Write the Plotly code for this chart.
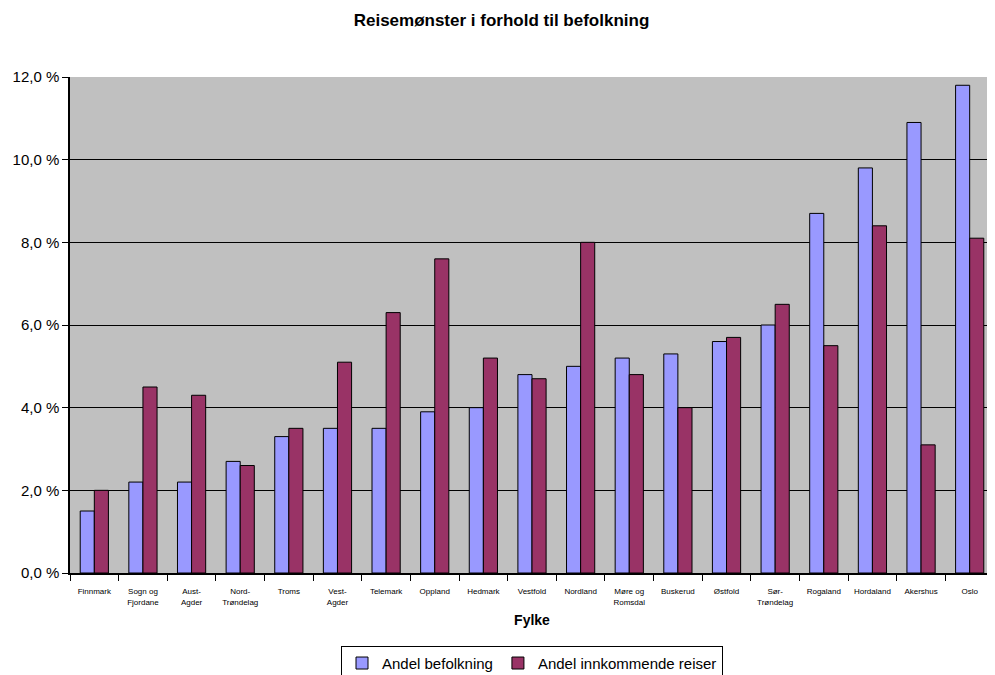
import plotly.graph_objects as go

categories = ["Finnmark", "Sogn og<br>Fjordane", "Aust-<br>Agder", "Nord-<br>Trøndelag", "Troms",
              "Vest-<br>Agder", "Telemark", "Oppland", "Hedmark", "Vestfold", "Nordland",
              "Møre og<br>Romsdal", "Buskerud", "Østfold", "Sør-<br>Trøndelag", "Rogaland",
              "Hordaland", "Akershus", "Oslo"]
andel_befolkning = [1.5, 2.2, 2.2, 2.7, 3.3, 3.5, 3.5, 3.9, 4.0, 4.8, 5.0, 5.2, 5.3, 5.6, 6.0, 8.7, 9.8, 10.9, 11.8]
andel_innkommende = [2.0, 4.5, 4.3, 2.6, 3.5, 5.1, 6.3, 7.6, 5.2, 4.7, 8.0, 4.8, 4.0, 5.7, 6.5, 5.5, 8.4, 3.1, 8.1]
y_ticks = [0, 2, 4, 6, 8, 10, 12]
y_tick_labels = ["0,0 %", "2,0 %", "4,0 %", "6,0 %", "8,0 %", "10,0 %", "12,0 %"]

fig = go.Figure()
fig.add_trace(go.Bar(x=categories, y=andel_befolkning, name="Andel befolkning",
                     marker=dict(color="#9999FF", line=dict(color="black", width=1))))
fig.add_trace(go.Bar(x=categories, y=andel_innkommende, name="Andel innkommende reiser",
                     marker=dict(color="#993366", line=dict(color="black", width=1))))

fig.update_layout(
    width=987, height=667,
    paper_bgcolor="white", plot_bgcolor="#C0C0C0",
    font=dict(family="Liberation Sans, Arial, sans-serif", color="black"),
    title=dict(text="<b>Reisemønster i forhold til befolkning</b>", x=0.5, xanchor="center",
               y=0.982, yanchor="middle", font=dict(size=17)),
    margin=dict(l=62, r=1, t=69, b=102, autoexpand=False),
    barmode="group", bargap=0.42, bargroupgap=0.0,
    showlegend=True,
    legend=dict(orientation="h", x=0.5, xanchor="center", y=-0.182, yanchor="middle",
                bordercolor="black", borderwidth=1, font=dict(size=15),
                itemwidth=30, tracegroupgap=0),
)
fig.update_xaxes(
    showline=True, linecolor="black", linewidth=1.5, mirror=False,
    ticks="outside", ticklen=6, tickcolor="black", tickson="boundaries",
    tickfont=dict(size=8), showgrid=False, ticklabelstandoff=10,
    title=dict(text="<b>Fylke</b>", font=dict(size=14), standoff=9),
)
fig.update_yaxes(
    range=[0, 12], tickvals=y_ticks, ticktext=y_tick_labels,
    showline=True, linecolor="black", linewidth=1.5,
    ticks="outside", ticklen=6, tickcolor="black",
    tickfont=dict(size=15), showgrid=True, gridcolor="black", gridwidth=1,
    zeroline=False,
)

fig.write_html("out.html")
